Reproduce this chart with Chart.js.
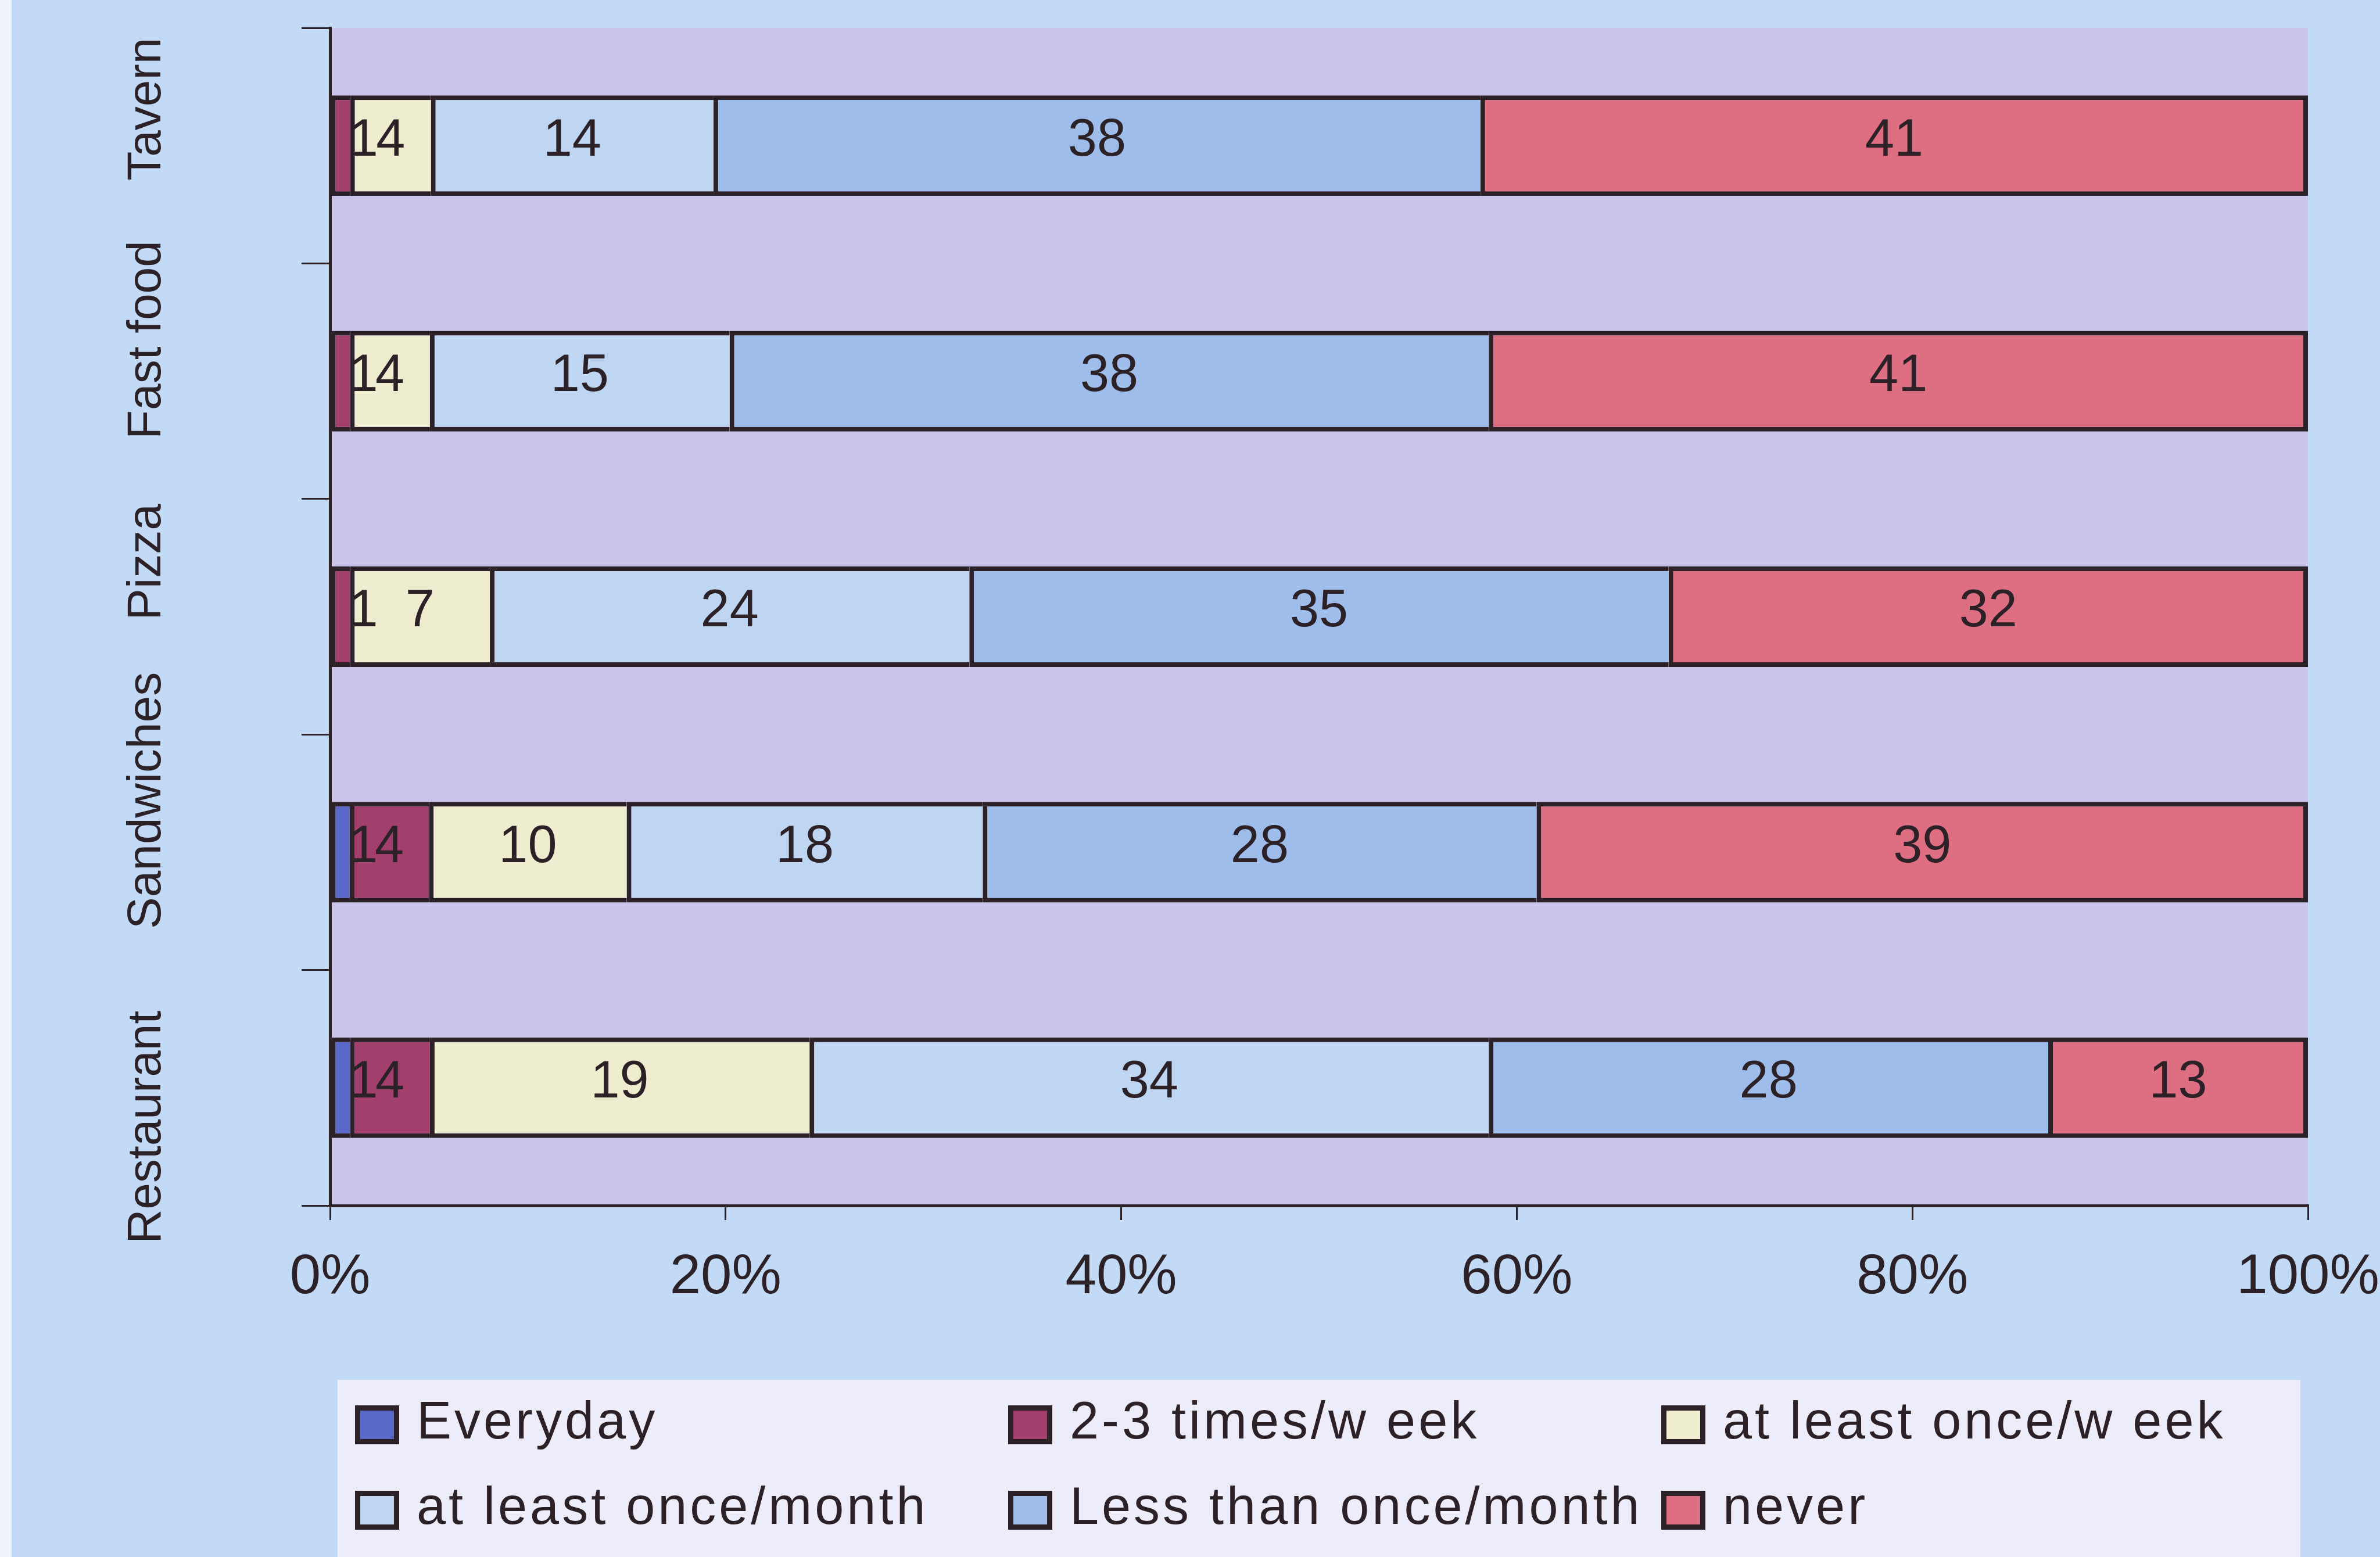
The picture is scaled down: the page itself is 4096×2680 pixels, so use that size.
<!DOCTYPE html>
<html>
<head>
<meta charset="utf-8">
<script src="https://cdn.jsdelivr.net/npm/chart.js@4.4.1/dist/chart.umd.min.js"></script>
<style>
  html, body { margin: 0; padding: 0; overflow: hidden; background: #c2daf5; }
  #wrap { position: relative; width: 4096px; height: 2680px; }
</style>
</head>
<body>
<div id="wrap"><canvas id="chart"></canvas></div>
<script>
// categories top to bottom, raw answer counts per frequency
const categories = ['Tavern', 'Fast food', 'Pizza', 'Sandwiches', 'Restaurant'];
const seriesNames = ['Everyday', '2-3 times/w eek', 'at least once/w eek', 'at least once/month', 'Less than once/month', 'never'];
const everyday = [0, 0, 0, 1, 1];
const twoThreeWeek = [1, 1, 1, 4, 4];
const onceWeek = [4, 4, 7, 10, 19];
const onceMonth = [14, 15, 24, 18, 34];
const lessMonth = [38, 38, 35, 28, 28];
const never = [41, 41, 32, 39, 13];
const xTicks = [0, 20, 40, 60, 80, 100];

const seriesValues = [everyday, twoThreeWeek, onceWeek, onceMonth, lessMonth, never];
const colors = ['#5a69c8', '#a33f6c', '#efedcf', '#bfd6f3', '#9fbdeb', '#de6f82'];
const ink = '#2b2127';
const font = '"Liberation Sans", Arial, sans-serif';
// the category names in the original sit a bit off their rows
const labelShift = [-63, -71, -94, -89, 68];

// 100% stacked: each row is scaled by its own total
const totals = categories.map((c, i) => seriesValues.reduce((s, arr) => s + arr[i], 0));

const datasets = seriesNames.map((name, k) => ({
    label: name,
    data: seriesValues[k].map((v, i) => v / totals[i] * 100),
    raw: seriesValues[k],
    backgroundColor: colors[k],
    borderColor: ink,
    borderWidth: { top: 8, bottom: 8, left: 8, right: k === seriesNames.length - 1 ? 8 : 0 },
    borderSkipped: false,
    barPercentage: 0.427,
    categoryPercentage: 1
}));

const backdrop = {
    id: 'backdrop',
    beforeDraw(chart) {
        const { ctx, width, height, chartArea: a } = chart;
        ctx.save();
        ctx.fillStyle = '#c2daf5';
        ctx.fillRect(0, 0, width, height);
        ctx.fillStyle = '#eef3fc';
        ctx.fillRect(0, 0, 20, height);
        ctx.fillStyle = '#cbc5ee';
        ctx.fillRect(a.left, a.top, a.right - a.left, a.bottom - a.top);
        ctx.restore();
    }
};

const valueLabels = {
    id: 'valueLabels',
    afterDatasetsDraw(chart) {
        const ctx = chart.ctx;
        ctx.save();
        ctx.font = '90px ' + font;
        ctx.fillStyle = ink;
        ctx.textBaseline = 'middle';
        chart.data.datasets.forEach((ds, k) => {
            chart.getDatasetMeta(k).data.forEach((bar, i) => {
                const v = ds.raw[i];
                if (!v) return;
                const x0 = Math.min(bar.base, bar.x), x1 = Math.max(bar.base, bar.x);
                const text = String(v);
                const w = ctx.measureText(text).width;
                if (x1 - x0 < w + 10) {
                    ctx.textAlign = 'left';
                    ctx.fillText(text, x1 - 2, bar.y - 8);
                } else {
                    ctx.textAlign = 'center';
                    ctx.fillText(text, (x0 + x1) / 2, bar.y - 8);
                }
            });
        });
        ctx.restore();
    }
};

const categoryLabels = {
    id: 'categoryLabels',
    afterDraw(chart) {
        const { ctx } = chart;
        const scale = chart.scales.y;
        ctx.save();
        ctx.font = '82px ' + font;
        ctx.fillStyle = ink;
        ctx.textAlign = 'center';
        ctx.textBaseline = 'middle';
        categories.forEach((c, i) => {
            ctx.save();
            ctx.translate(scale.right - 315, scale.getPixelForTick(i) + labelShift[i]);
            ctx.rotate(-Math.PI / 2);
            ctx.fillText(c, 0, 0);
            ctx.restore();
        });
        ctx.restore();
    }
};

const legendBox = {
    id: 'legendBox',
    afterDraw(chart) {
        const { ctx, height, chartArea: a } = chart;
        const left = a.left + 13, right = a.right - 13, top = a.bottom + 300;
        ctx.save();
        ctx.fillStyle = '#ececfa';
        ctx.fillRect(left, top, right - left, height - top);
        ctx.font = '90px ' + font;
        ctx.letterSpacing = '5px';
        ctx.textAlign = 'left';
        ctx.textBaseline = 'alphabetic';
        chart.data.datasets.forEach((ds, k) => {
            const col = k % 3, row = Math.floor(k / 3);
            const sx = left + 30 + col * 1124;
            const sy = top + 44 + row * 147;
            ctx.fillStyle = ink;
            ctx.fillRect(sx, sy, 76, 67);
            ctx.fillStyle = ds.backgroundColor;
            ctx.fillRect(sx + 9, sy + 9, 58, 49);
            ctx.fillStyle = ink;
            ctx.fillText(ds.label, sx + 106, sy + 57);
        });
        ctx.restore();
    }
};

new Chart('chart', {
    type: 'bar',
    data: { labels: categories, datasets: datasets },
    options: {
        indexAxis: 'y',
        responsive: true,
        maintainAspectRatio: false,
        animation: false,
        layout: { padding: { left: 0, right: 124, top: 48, bottom: 405 } },
        plugins: { legend: { display: false }, tooltip: { enabled: false } },
        scales: {
            x: {
                stacked: true,
                min: 0,
                max: 100,
                afterBuildTicks: s => { s.ticks = xTicks.map(v => ({ value: v })); },
                afterFit: s => { s.height = 200; s.paddingLeft = 0; s.paddingRight = 0; },
                grid: { drawOnChartArea: false, drawTicks: true, tickLength: 25, color: ink, lineWidth: 3 },
                border: { display: true, color: ink, width: 5 },
                ticks: {
                    callback: v => v + '%',
                    color: ink,
                    padding: 42,
                    maxRotation: 0,
                    autoSkip: false,
                    font: { family: font, size: 96 }
                }
            },
            y: {
                stacked: true,
                offset: true,
                afterFit: s => { s.width = 568; s.paddingTop = 0; s.paddingBottom = 0; },
                grid: { offset: true, drawOnChartArea: false, drawTicks: true, tickLength: 49, color: ink, lineWidth: 3 },
                border: { display: true, color: ink, width: 5 },
                ticks: { display: false, autoSkip: false }
            }
        }
    },
    plugins: [backdrop, valueLabels, categoryLabels, legendBox]
});
</script>
</body>
</html>
